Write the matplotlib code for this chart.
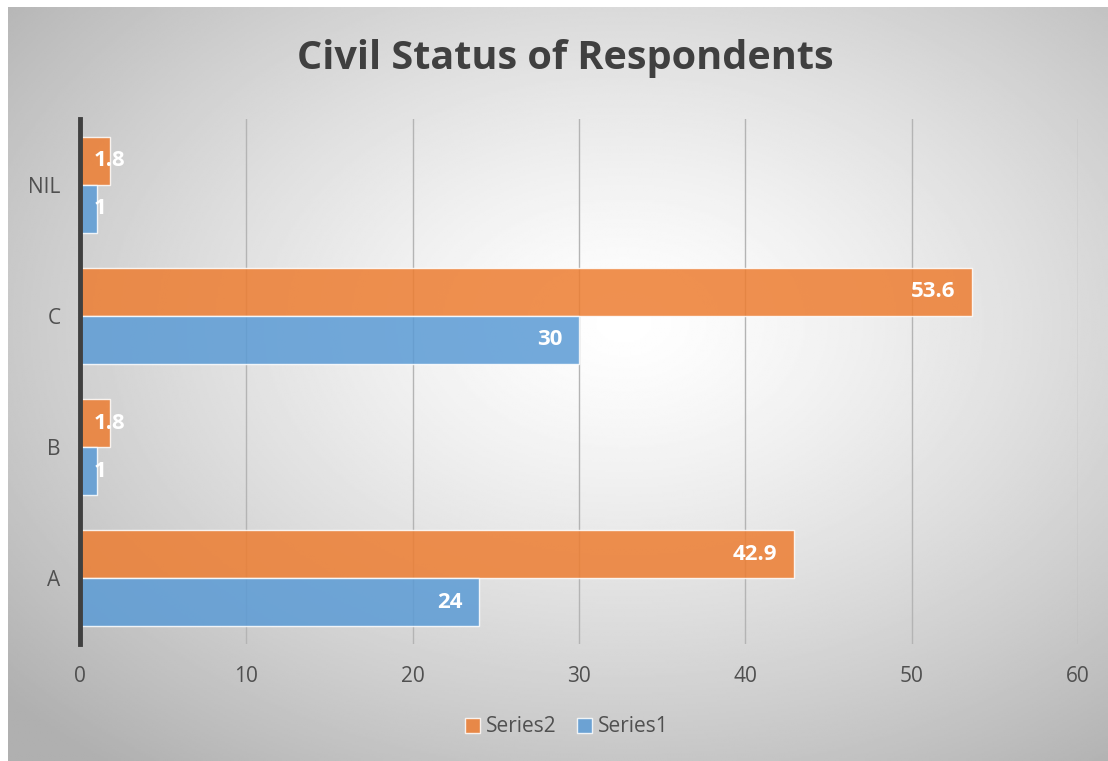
import matplotlib.pyplot as plt
import numpy as np

categories = ["A", "B", "C", "NIL"]
series1 = [24, 1, 30, 1]
series2 = [42.9, 1.8, 53.6, 1.8]
labels1 = ["24", "1", "30", "1"]
labels2 = ["42.9", "1.8", "53.6", "1.8"]
xticks = [0, 10, 20, 30, 40, 50, 60]

orange = "#ED7D31"
blue = "#5B9BD5"
text_col = "#404040"
tick_col = "#505050"

W, H = 1108, 761
fig = plt.figure(figsize=(W / 100, H / 100), dpi=100)
fig.patch.set_facecolor("white")

# radial gradient background for the chart area
bg = fig.add_axes([8 / W, 0, 1 - 8 / W, 1 - 7 / H], zorder=-10)
yy, xx = np.mgrid[0:1:400j, 0:1:600j]
r = np.sqrt(((xx - 0.56) / 0.75) ** 2 + ((yy - 0.42) / 0.75) ** 2)
shade = 1.0 - 0.31 * np.clip(r, 0, 1) ** 1.3
bg.imshow(shade, cmap="gray", vmin=0, vmax=1, aspect="auto", extent=[0, 1, 1, 0])
bg.set_axis_off()

ax = fig.add_axes([80 / W, 1 - 644 / H, (1078 - 80) / W, (644 - 119) / H])
ax.set_facecolor("none")

y = np.arange(len(categories))
h = 0.365
b2 = ax.barh(y + h / 2, series2, height=h, color=orange, alpha=0.85,
             edgecolor=(1, 1, 1, 0.5), linewidth=1, label="Series2", zorder=3)
b1 = ax.barh(y - h / 2, series1, height=h, color=blue, alpha=0.85,
             edgecolor=(1, 1, 1, 0.5), linewidth=1, label="Series1", zorder=3)

for bars, labs in [(b2, labels2), (b1, labels1)]:
    for bar, lab in zip(bars, labs):
        w = bar.get_width()
        yc = bar.get_y() + bar.get_height() / 2
        if w > 5:
            ax.text(w - 1.0, yc, lab, ha="right", va="center", color="white",
                    fontsize=16, fontweight="bold", family="Open Sans", zorder=5)
        else:
            ax.text(0.85, yc, lab, ha="left", va="center", color="white",
                    fontsize=16, fontweight="bold", family="Open Sans", zorder=5)

ax.set_xlim(0, 60)
ax.set_ylim(-0.5, 3.5)
ax.set_xticks(xticks)
ax.set_xticklabels([str(t) for t in xticks], fontsize=15, color=tick_col, family="Open Sans")
ax.set_yticks(y)
ax.set_yticklabels(categories, fontsize=15, color=tick_col, family="Open Sans")
ax.tick_params(axis="x", length=0, pad=16)
ax.tick_params(axis="y", length=0, pad=14)
ax.grid(axis="x", color="#b4b4b4", linewidth=1, zorder=0)
for s in ["top", "right", "bottom"]:
    ax.spines[s].set_visible(False)
ax.spines["left"].set_color("#404040")
ax.spines["left"].set_linewidth(3.5)
ax.spines["left"].set_zorder(6)

fig.text(565 / W, 1 - 58 / H, "Civil Status of Respondents", ha="center", va="center",
         fontsize=28.5, fontweight="bold", color=text_col, family="Open Sans")

fig.legend(handles=[b2, b1], labels=["Series2", "Series1"], loc="center",
           bbox_to_anchor=(567 / W, 1 - 727 / H), ncol=2, frameon=False,
           prop={"family": "Open Sans", "size": 15}, handlelength=0.7,
           handleheight=0.7, handletextpad=0.3, columnspacing=1.0,
           labelcolor=tick_col)

fig.savefig("out.png", dpi=100)
